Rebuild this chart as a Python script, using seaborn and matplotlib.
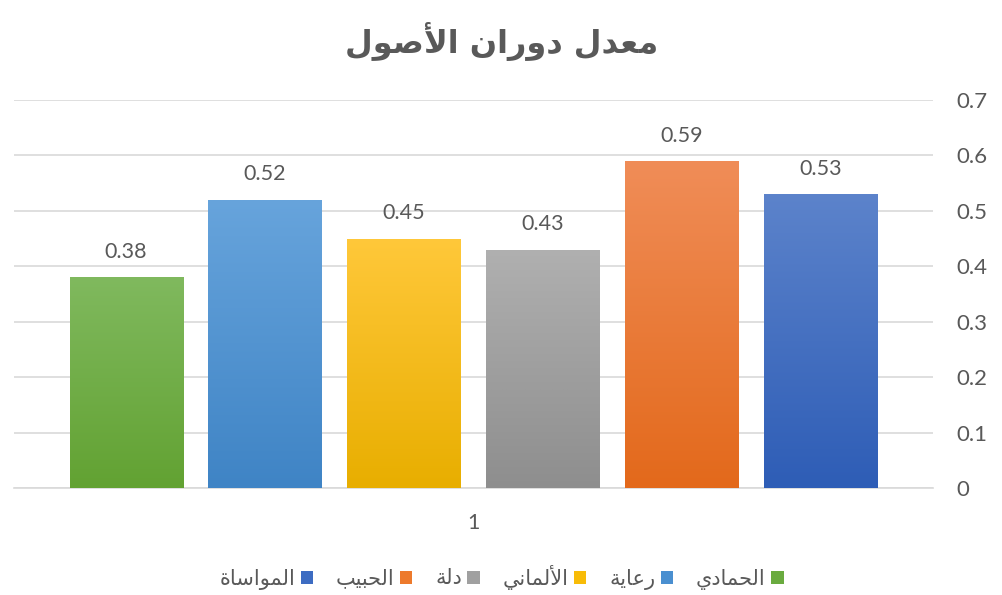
import numpy as np
import pandas as pd
import matplotlib
matplotlib.use("Agg")
import matplotlib.pyplot as plt
import seaborn as sns
from matplotlib.colors import to_rgb

# ---------------- data ----------------
title = "معدل دوران الأصول"
hospitals = ["الحمادي", "رعاية", "الألماني", "دلة", "الحبيب", "المواساة"]
values = [0.38, 0.52, 0.45, 0.43, 0.59, 0.53]
category = "1"
y_ticks = [0, 0.1, 0.2, 0.3, 0.4, 0.5, 0.6, 0.7]

# ---------------- styles ----------------
base_colors = ["#6AAB3F", "#4A8FD0", "#F8BC08", "#A0A0A0", "#ED7A2C", "#3D6CC2"]
top_colors = ["#80B95E", "#67A4DC", "#FFC83A", "#B0B0B0", "#F08D58", "#5C83CB"]
bottom_colors = ["#62A232", "#3F84C5", "#E8AE00", "#8E8E8E", "#E3691B", "#2E5DB6"]
text_grey = "#595959"
grid_grey = "#D9D9D9"

# ---------------- minimal Arabic shaping (presentation forms) ----------------
FORMS = {
    'ا': ('\uFE8D', '\uFE8E', None, None),
    'أ': ('\uFE83', '\uFE84', None, None),
    'ب': ('\uFE8F', '\uFE90', '\uFE91', '\uFE92'),
    'ة': ('\uFE93', '\uFE94', None, None),
    'ت': ('\uFE95', '\uFE96', '\uFE97', '\uFE98'),
    'ح': ('\uFEA1', '\uFEA2', '\uFEA3', '\uFEA4'),
    'د': ('\uFEA9', '\uFEAA', None, None),
    'ر': ('\uFEAD', '\uFEAE', None, None),
    'س': ('\uFEB1', '\uFEB2', '\uFEB3', '\uFEB4'),
    'ص': ('\uFEB9', '\uFEBA', '\uFEBB', '\uFEBC'),
    'ع': ('\uFEC9', '\uFECA', '\uFECB', '\uFECC'),
    'ل': ('\uFEDD', '\uFEDE', '\uFEDF', '\uFEE0'),
    'م': ('\uFEE1', '\uFEE2', '\uFEE3', '\uFEE4'),
    'ن': ('\uFEE5', '\uFEE6', '\uFEE7', '\uFEE8'),
    'و': ('\uFEED', '\uFEEE', None, None),
    'ي': ('\uFEF1', '\uFEF2', '\uFEF3', '\uFEF4'),
    'LA': ('\uFEFB', '\uFEFC', None, None),
    'LAH': ('\uFEF7', '\uFEF8', None, None),
}


def shape(text):
    tokens = []
    i = 0
    while i < len(text):
        c = text[i]
        if c == 'ل' and i + 1 < len(text) and text[i + 1] in ('ا', 'أ'):
            tokens.append('LA' if text[i + 1] == 'ا' else 'LAH')
            i += 2
        else:
            tokens.append(c)
            i += 1
    out = []
    for k, t in enumerate(tokens):
        if t not in FORMS:
            out.append(t)
            continue
        f = FORMS[t]
        prev = tokens[k - 1] if k > 0 else None
        nxt = tokens[k + 1] if k + 1 < len(tokens) else None
        jp = prev in FORMS and FORMS[prev][2] is not None
        jn = f[2] is not None and nxt in FORMS
        if jp and jn:
            out.append(f[3])
        elif jp:
            out.append(f[1])
        elif jn:
            out.append(f[2])
        else:
            out.append(f[0])
    return ''.join(out)[::-1]


shaped_names = [shape(h) for h in hospitals]

# ---------------- figure ----------------
sns.set_theme(style="white")
plt.rcParams['font.family'] = ['Lato', 'DejaVu Sans']

fig = plt.figure(figsize=(10.03, 5.95), dpi=100)
W, H = 1003, 595
ax = fig.add_axes([14 / W, 107 / H, (933 - 14) / W, (488 - 100) / H])

df = pd.DataFrame({"cat": [category] * len(values), "name": shaped_names, "value": values})
sns.barplot(data=df, x="cat", y="value", hue="name", hue_order=shaped_names,
            palette=base_colors, width=0.9075, gap=0.187, ax=ax, legend=True,
            saturation=1, edgecolor="none", linewidth=0, zorder=3)

ax.set_ylim(0, 0.7)
ax.set_xlim(-0.5, 0.5)

# gradient fill clipped to each bar
for i, cont in enumerate(ax.containers):
    c_top = np.array(to_rgb(top_colors[i]))
    c_bot = np.array(to_rgb(bottom_colors[i]))
    grad = np.linspace(0, 1, 256)[:, None, None] * (c_bot - c_top) + c_top
    for patch in cont:
        x0, y0 = patch.get_x(), patch.get_y()
        w, h = patch.get_width(), patch.get_height()
        im = ax.imshow(grad, extent=[x0, x0 + w, y0, y0 + h], origin="upper",
                       aspect="auto", zorder=3.5, interpolation="bilinear")
        im.set_clip_path(patch)
    ax.bar_label(cont, fmt="%.2f", padding=11, fontsize=15.5, color=text_grey, zorder=5)

ax.set_ylim(0, 0.7)
ax.set_xlim(-0.5, 0.5)

# axes styling
ax.yaxis.tick_right()
ax.set_yticks(y_ticks)
ax.set_yticklabels([f"{t:g}" for t in y_ticks])
ax.yaxis.grid(True, color=grid_grey, linewidth=1.2, zorder=0)
ax.set_axisbelow(True)
for s in ["top", "left", "right"]:
    ax.spines[s].set_visible(False)
ax.spines["bottom"].set_color(grid_grey)
ax.spines["bottom"].set_linewidth(1.2)
ax.tick_params(axis="y", length=0, pad=17, labelsize=16, labelcolor=text_grey)
ax.tick_params(axis="x", length=0, pad=18, labelsize=15.5, labelcolor=text_grey)
ax.set_xlabel("")
ax.set_ylabel("")

# legend (right-to-left)
handles, labels = ax.get_legend_handles_labels()
ax.get_legend().remove()
fig.legend(handles[::-1], labels[::-1], loc="center", bbox_to_anchor=(0.5, 1 - 577 / H),
           ncol=6, frameon=False, markerfirst=False, fontsize=15,
           handlelength=0.6, handleheight=0.6, handletextpad=0.25, columnspacing=1.1,
           labelcolor=text_grey)

fig.text(0.5, 1 - 42 / H, shape(title), ha="center", va="center",
         fontsize=23, fontweight="bold", color=text_grey, family=['DejaVu Sans'])

fig.savefig("out.png", dpi=100, facecolor="white")
